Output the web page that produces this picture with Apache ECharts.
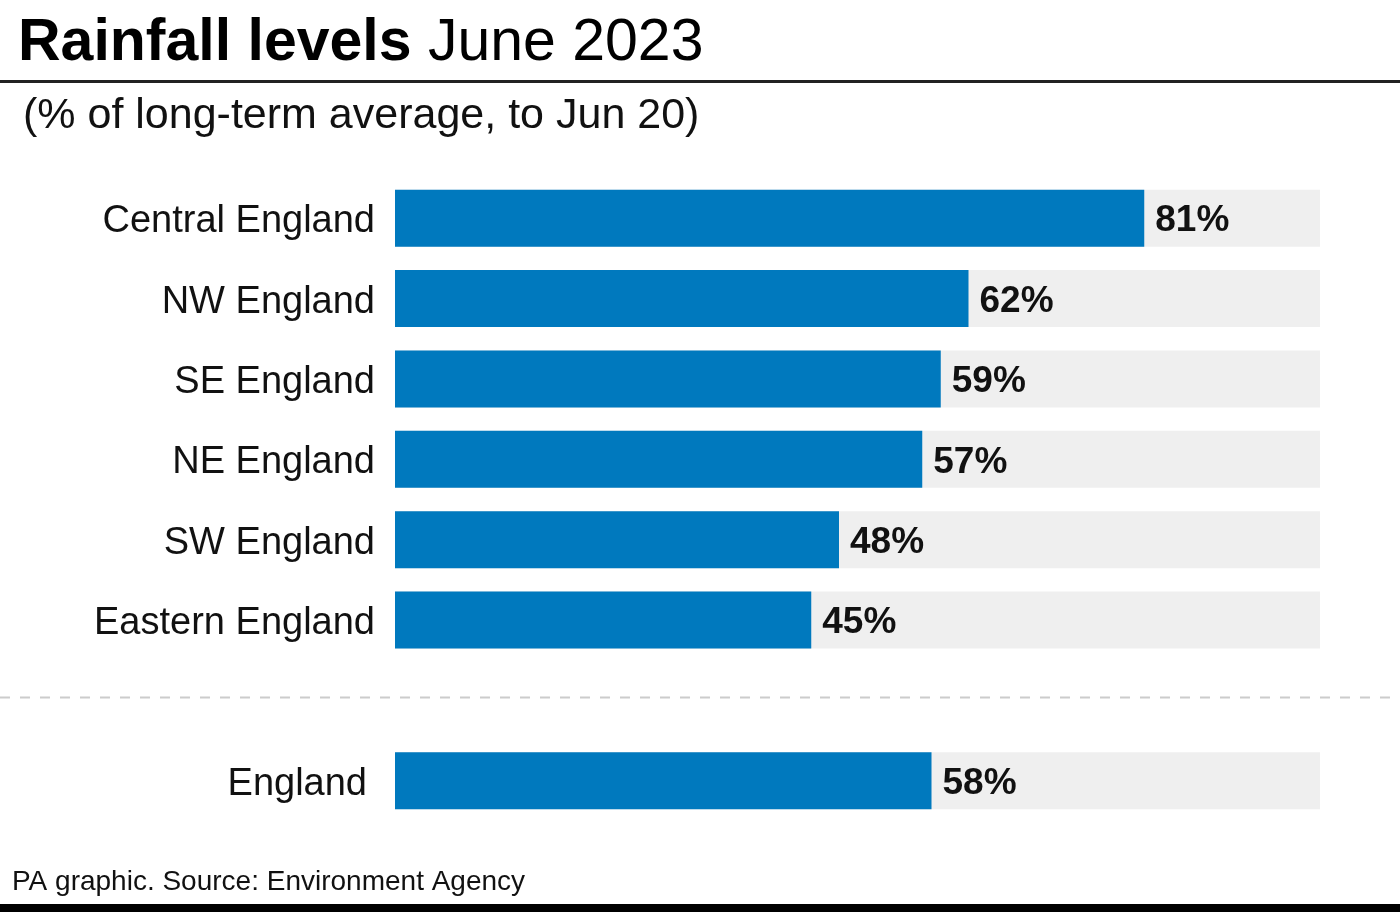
<!DOCTYPE html>
<html>
<head>
<meta charset="utf-8">
<script src="https://cdn.jsdelivr.net/npm/echarts@6/dist/echarts.min.js"></script>
<style>
html,body{margin:0;padding:0;background:#fff;}
#chart{width:1400px;height:912px;}
</style>
</head>
<body>
<div id="chart"></div>
<script>
// ---- data ----
const regions = ['Central England', 'NW England', 'SE England', 'NE England', 'SW England', 'Eastern England'];
const regionValues = [81, 62, 59, 57, 48, 45];
const nationalName = 'England';
const nationalValue = 58;
const scaleMax = 100;
const titleBold = 'Rainfall levels';
const titleRegular = 'June 2023';
const subtitle = '(% of long-term average, to Jun 20)';
const footer = 'PA graphic. Source: Environment Agency';

// build axis with a gap slot between regions and national total
const GAP = ' ';
const categories = regions.concat([GAP, nationalName]);
const values = regionValues.concat(['-', nationalValue]);
const track = categories.map(c => c === GAP ? '-' : scaleMax);
const gapIndex = regions.length;

const FONT = '"Liberation Sans", Arial, Helvetica, sans-serif';
const chart = echarts.init(document.getElementById('chart'), null, {renderer: 'canvas'});

const option = {
  backgroundColor: '#ffffff',
  animation: false,
  grid: {left: 395, right: 80, top: 178, bottom: 91, containLabel: false},
  xAxis: {
    type: 'value', min: 0, max: scaleMax,
    show: false
  },
  yAxis: {
    type: 'category',
    data: categories,
    inverse: true,
    axisLine: {show: false},
    axisTick: {show: false},
    splitLine: {show: false},
    axisLabel: {
      margin: 20,
      color: '#111',
      fontFamily: FONT,
      fontSize: 38,
      formatter: function (v) {
        if (v === nationalName) return '{n|' + v + '}';
        return '{r|' + v + '}';
      },
      rich: {
        r: {fontFamily: FONT, fontSize: 38, color: '#111', padding: [7, 0, 0, 0]},
        n: {fontFamily: FONT, fontSize: 38, color: '#111', padding: [7, 8, 0, 0]}
      }
    }
  },
  series: [{
    type: 'bar',
    data: track,
    barWidth: 57,
    silent: true,
    itemStyle: {color: '#efefef'},
    z: 1
  }, {
    type: 'bar',
    data: values,
    barWidth: 57,
    barGap: '-100%',
    itemStyle: {color: '#0079be'},
    z: 2,
    label: {
      show: true,
      position: 'right',
      distance: 11,
      offset: [0, 3],
      formatter: function (p) { return p.value + '%'; },
      fontFamily: FONT,
      fontWeight: 'bold',
      fontSize: 37,
      color: '#111'
    }
  }],
  graphic: [
    {
      type: 'text', x: 18, y: 44,
      style: {
        text: '{b|' + titleBold + '}{r| ' + titleRegular + '}',
        verticalAlign: 'middle',
        rich: {
          b: {fontFamily: FONT, fontWeight: 'bold', fontSize: 59, fill: '#000'},
          r: {fontFamily: FONT, fontWeight: 'normal', fontSize: 59, fill: '#000'}
        }
      }
    },
    {
      type: 'rect', shape: {x: 0, y: 80, width: 1400, height: 3},
      style: {fill: '#222'}
    },
    {
      type: 'text', x: 23, y: 116,
      style: {text: subtitle, fontFamily: FONT, fontSize: 43, fill: '#111', verticalAlign: 'middle'}
    },
    {
      type: 'text', x: 12, y: 882,
      style: {text: footer, fontFamily: FONT, fontSize: 28, fill: '#111', verticalAlign: 'middle'}
    },
    {
      type: 'rect', shape: {x: 0, y: 904, width: 1400, height: 8},
      style: {fill: '#000'}
    }
  ]
};
chart.setOption(option);

// dashed separator placed in the gap slot
const gy = chart.convertToPixel({yAxisIndex: 0}, gapIndex) - 3;
chart.setOption({
  graphic: option.graphic.concat([{
    type: 'line',
    shape: {x1: 0, y1: gy, x2: 1410, y2: gy},
    style: {stroke: '#cccccc', lineWidth: 2, lineDash: [10, 10]}
  }])
});
</script>
</body>
</html>
